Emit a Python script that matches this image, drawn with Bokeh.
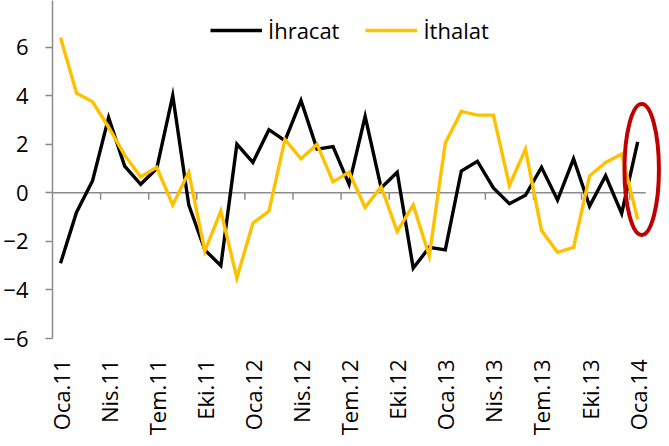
import math
from bokeh.plotting import figure
from bokeh.models import Range1d, FixedTicker, Legend, LegendItem
from bokeh.embed import file_html
from bokeh.resources import INLINE

month_names = ["Oca", "Şub", "Mar", "Nis", "May", "Haz", "Tem", "Ağu", "Eyl", "Eki", "Kas", "Ara"]
years = ["11", "12", "13", "14"]
categories = [f"{m}.{y}" for y in years for m in month_names][:37]

ihracat = [-2.9, -0.8, 0.5, 3.1, 1.1, 0.35, 1.0, 4.0, -0.5, -2.35,
           -3.0, 2.0, 1.25, 2.6, 2.15, 3.8, 1.8, 1.9, 0.35, 3.15,
           0.2, 0.85, -3.1, -2.25, -2.35, 0.9, 1.3, 0.2, -0.45, -0.1,
           1.05, -0.3, 1.4, -0.55, 0.7, -0.85, 2.1]
ithalat = [6.4, 4.1, 3.75, 2.7, 1.55, 0.65, 1.05, -0.5, 0.85, -2.4,
           -0.75, -3.5, -1.25, -0.75, 2.2, 1.4, 2.0, 0.45, 0.85, -0.6,
           0.25, -1.6, -0.5, -2.6, 2.05, 3.35, 3.2, 3.2, 0.3, 1.8,
           -1.55, -2.45, -2.25, 0.7, 1.25, 1.6, -1.1]
y_ticks = [-6, -4, -2, 0, 2, 4, 6, 8]
label_step = 3

# highlight ellipse around the last observation
hl_x, hl_y, hl_w, hl_h = 36.25, 0.96, 2.15, 5.4

FONT = "Open Sans"
GRAY = "#8c8c8c"
n = len(categories)
xs = list(range(n))
Y0, Y1 = -6, 7.92
FRAME_H = 341

p = figure(width=661, height=438, output_backend="svg", toolbar_location=None,
           x_range=Range1d(-0.5, n - 0.5 + 0.985), y_range=Range1d(Y0, Y1),
           min_border_left=44, min_border_right=0, min_border_top=0, min_border_bottom=97)
p.outline_line_color = None
p.xgrid.visible = False
p.ygrid.visible = False
p.background_fill_color = "white"
p.border_fill_color = "white"

# y axis
p.yaxis.ticker = FixedTicker(ticks=y_ticks)
p.yaxis.axis_line_color = GRAY
p.yaxis.axis_line_width = 1.5
p.yaxis.major_tick_line_color = GRAY
p.yaxis.major_tick_line_width = 1.5
p.yaxis.major_tick_out = 7
p.yaxis.major_tick_in = 0
p.yaxis.minor_tick_line_color = None
p.yaxis.major_label_standoff = 17
p.yaxis.major_label_text_font = FONT
p.yaxis.major_label_text_font_size = "22px"
p.yaxis.major_label_text_color = "black"

# x axis (labels only)
p.xaxis.ticker = FixedTicker(ticks=xs[::label_step])
p.xaxis.major_label_overrides = {i: categories[i] for i in xs[::label_step]}
p.xaxis.major_label_orientation = math.pi / 2
p.xaxis.axis_line_color = None
p.xaxis.major_tick_line_color = None
p.xaxis.minor_tick_line_color = None
p.xaxis.major_tick_out = 0
p.xaxis.major_tick_in = 0
p.xaxis.major_label_standoff = 21
p.xaxis.major_label_text_font = FONT
p.xaxis.major_label_text_font_size = "22px"
p.xaxis.major_label_text_color = "black"

# zero line with category-boundary ticks
p.segment(x0=[-0.5], y0=[0], x1=[n - 0.5], y1=[0], line_color=GRAY, line_width=1.5)
tick_x = [k * label_step - 0.5 for k in range(1, n // label_step + 1)]
tick_len = 7 / (FRAME_H / (Y1 - Y0))
p.segment(x0=tick_x, y0=[0] * len(tick_x), x1=tick_x, y1=[-tick_len] * len(tick_x),
          line_color=GRAY, line_width=1.5)

r1 = p.line(xs, ihracat, line_color="black", line_width=3.4, line_join="miter")
r2 = p.line(xs, ithalat, line_color="#FFC000", line_width=3.4, line_join="miter")

p.ellipse(x=[hl_x], y=[hl_y], width=[hl_w], height=[hl_h], fill_color=None,
          line_color="#C00000", line_width=4)

legend = Legend(items=[LegendItem(label="İhracat", renderers=[r1]),
                       LegendItem(label="İthalat", renderers=[r2])],
                orientation="horizontal", location=(158, 293),
                glyph_width=52, glyph_height=20, label_standoff=6, spacing=26,
                padding=0, margin=0, border_line_color=None, background_fill_alpha=0,
                label_text_font=FONT, label_text_font_size="22px", label_text_color="black")
p.add_layout(legend)

open("out.html", "w").write(file_html(p, INLINE))
